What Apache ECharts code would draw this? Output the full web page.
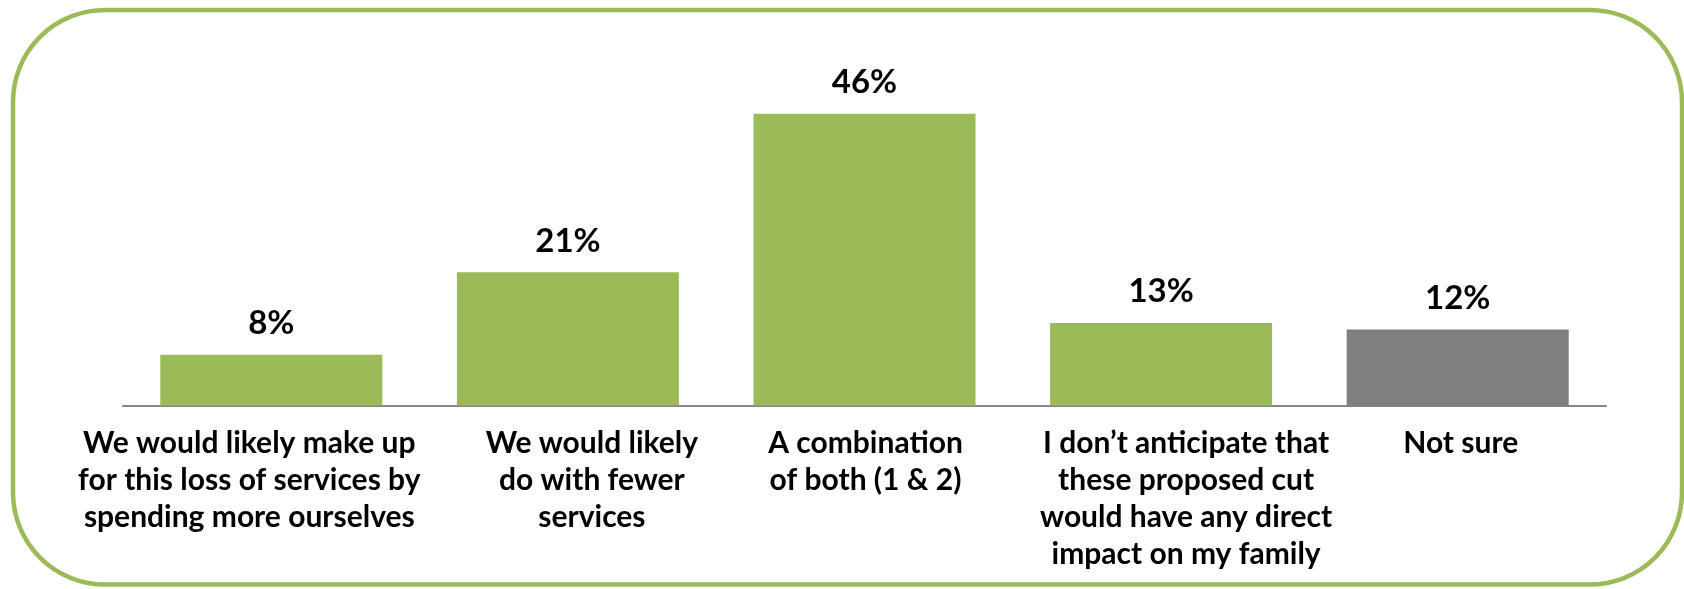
<!DOCTYPE html>
<html>
<head>
<meta charset="utf-8">
<title>Expected response to service cuts</title>
<script src="https://cdn.jsdelivr.net/npm/echarts@6/dist/echarts.min.js"></script>
<style>
  html, body { margin: 0; padding: 0; background: #ffffff; }
  #chart { width: 1684px; height: 589px; }
</style>
</head>
<body>
<div id="chart"></div>
<script>
// Survey answers (category labels, wrapped as printed)
const categories = [
  'We would likely make up\nfor this loss of services by\nspending more ourselves',
  'We would likely\ndo with fewer\nservices',
  'A combination\nof both (1 & 2)',
  'I don\u2019t anticipate that\nthese proposed cut\nwould have any direct\nimpact on my family',
  'Not sure'
];

// Share of respondents, in percent
const shares = [8, 21, 46, 13, 12];

// Presentation: bar fills and horizontal nudges of the category labels
const GREEN = '#9BBB59';
const GREY = '#7F7F7F';
const barColors = [GREEN, GREEN, GREEN, GREEN, GREY];
const labelShift = [-22, 24, 1, 25, 3];

const FONT = 'Lato, "Open Sans", sans-serif';

const axisData = categories.map(function (name, i) {
  const s = labelShift[i];
  return {
    value: name,
    textStyle: { padding: s >= 0 ? [0, 0, 0, 2 * s] : [0, -2 * s, 0, 0] }
  };
});

const chart = echarts.init(document.getElementById('chart'), null, { renderer: 'canvas' });

chart.setOption({
  animation: false,
  backgroundColor: '#ffffff',
  grid: { left: 123, right: 78, top: 88.5, bottom: 183.5, containLabel: false },
  xAxis: {
    type: 'category',
    data: axisData,
    axisLine: { show: true, lineStyle: { color: '#868686', width: 2 } },
    axisTick: { show: false },
    splitLine: { show: false },
    axisLabel: {
      interval: 0,
      margin: 19,
      color: '#000000',
      fontFamily: FONT,
      fontWeight: 'bold',
      fontSize: 30,
      lineHeight: 37,
      align: 'center'
    }
  },
  yAxis: {
    type: 'value',
    min: 0,
    max: 50,
    show: false,
    splitLine: { show: false }
  },
  series: [{
    type: 'bar',
    data: shares.map(function (v, i) {
      return { value: v, itemStyle: { color: barColors[i] } };
    }),
    barWidth: 222,
    label: {
      show: true,
      position: 'top',
      distance: 15,
      formatter: '{c}%',
      color: '#000000',
      fontFamily: FONT,
      fontWeight: 'bold',
      fontSize: 33,
      lineHeight: 33
    }
  }],
  graphic: [{
    type: 'rect',
    silent: true,
    z: 100,
    shape: { x: 13, y: 10, width: 1669, height: 574.5, r: 92 },
    style: { fill: null, stroke: GREEN, lineWidth: 4.5 }
  }]
});
</script>
</body>
</html>
